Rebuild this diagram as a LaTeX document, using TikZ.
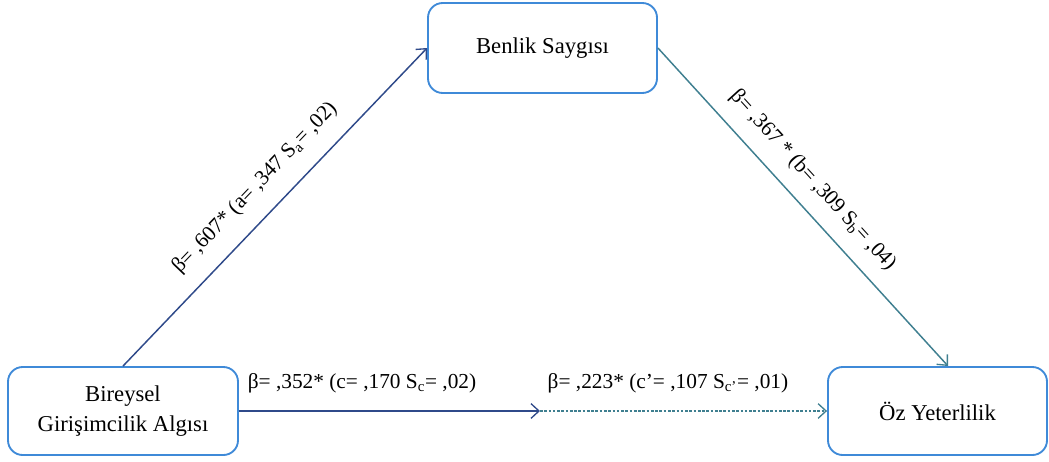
\documentclass[tikz,border=0pt]{standalone}
\usepackage{fontspec}
\setmainfont{Liberation Serif}
\usetikzlibrary{arrows.meta}
\definecolor{boxblue}{HTML}{3F8AD8}
\definecolor{navyline}{HTML}{2F4A8A}
\definecolor{tealline}{HTML}{3F7F90}
\tikzset{
  varbox/.style={draw=boxblue, line width=1.4pt, rounded corners=11pt, fill=white,
    align=center, font=\fontsize{17}{22}\selectfont, inner sep=0pt},
  pathlabel/.style={font=\fontsize{16}{18}\selectfont, inner sep=0pt, text=black},
  tip/.style={-{Straight Barb[length=6pt,width=11pt,line width=1pt]}},
}
\begin{document}
\begin{tikzpicture}[x=0.75pt,y=-0.75pt]
\useasboundingbox (0,0) rectangle (1049,461);
\node[varbox, minimum width=171.75pt, minimum height=67.5pt] (bs) at (542.5,48) {Benlik Saygısı};
\node[varbox, minimum width=172.5pt, minimum height=66pt] (bga) at (123,411) {Bireysel\\Girişimcilik Algısı};
\node[varbox, minimum width=164.25pt, minimum height=66pt] (oy) at (937.5,411) {Öz Yeterlilik};
\coordinate (mid) at (540,411);
\coordinate (oytop) at (948,366);

\draw[navyline, line width=1.1pt, tip] (bga.north) -- (bs.west)
  node[pathlabel, pos=0.5, sloped, above=13pt] (la) {β= ,607* (a= ,347 S\textsubscript{a}= ,02)};
\draw[tealline, line width=1.1pt, tip] (bs.east) -- (oytop)
  node[pathlabel, pos=0.47, sloped, above=11pt] (lb) {β= ,367 * (b= ,309 S\textsubscript{b}= ,04)};
\draw[navyline, line width=1.1pt, tip] (bga.east) -- (mid);
\draw[tealline, line width=1.1pt, dash pattern=on 2pt off 1.2pt, tip] (mid) -- (oy.west);
\node[pathlabel] (lc) at (362,383) {β= ,352* (c= ,170 S\textsubscript{c}= ,02)};
\node[pathlabel] (lcp) at (668,383) {β= ,223* (c’= ,107 S\textsubscript{c’}= ,01)};
\end{tikzpicture}
\end{document}
